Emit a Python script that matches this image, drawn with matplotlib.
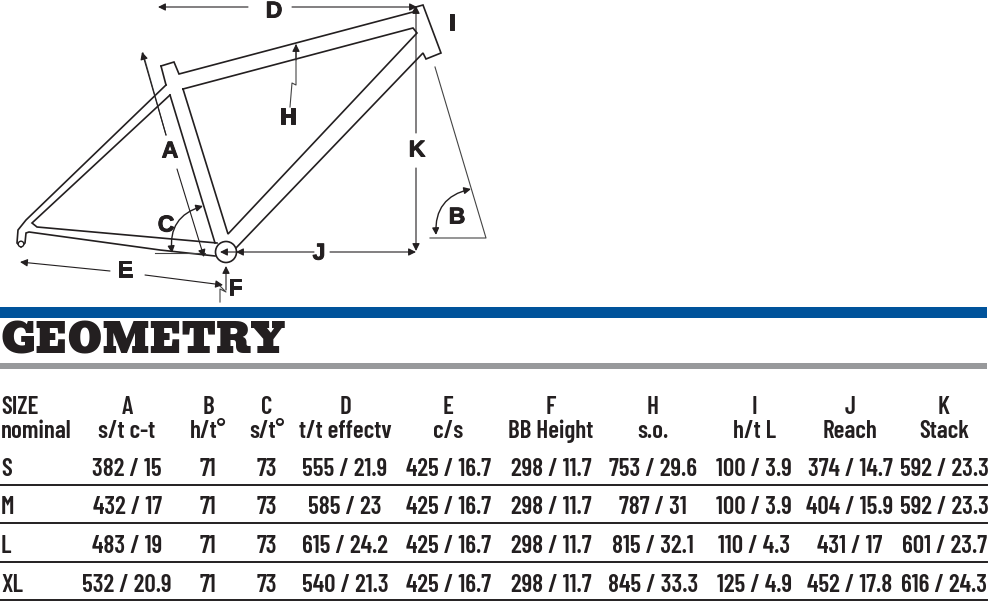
import matplotlib
matplotlib.use("Agg")
import matplotlib.pyplot as plt
from matplotlib.patches import Rectangle, Circle
from matplotlib import patheffects as pe
import logging
logging.getLogger("matplotlib.font_manager").setLevel(logging.ERROR)

sizes = ["S", "M", "L", "XL"]
col_letters = ["A", "B", "C", "D", "E", "F", "H", "I", "J", "K"]
col_names = ["s/t c-t", "h/t°", "s/t°", "t/t effectv", "c/s", "BB Height", "s.o.", "h/t L", "Reach", "Stack"]
col_A = ["382 / 15", "432 / 17", "483 / 19", "532 / 20.9"]
col_B = ["71", "71", "71", "71"]
col_C = ["73", "73", "73", "73"]
col_D = ["555 / 21.9", "585 / 23", "615 / 24.2", "540 / 21.3"]
col_E = ["425 / 16.7", "425 / 16.7", "425 / 16.7", "425 / 16.7"]
col_F = ["298 / 11.7", "298 / 11.7", "298 / 11.7", "298 / 11.7"]
col_H = ["753 / 29.6", "787 / 31", "815 / 32.1", "845 / 33.3"]
col_I = ["100 / 3.9", "100 / 3.9", "110 / 4.3", "125 / 4.9"]
col_J = ["374 / 14.7", "404 / 15.9", "431 / 17", "452 / 17.8"]
col_K = ["592 / 23.3", "592 / 23.3", "601 / 23.7", "616 / 24.3"]
columns = [col_A, col_B, col_C, col_D, col_E, col_F, col_H, col_I, col_J, col_K]

col_x = [127, 208, 267, 345, 448, 551, 653, 754, 850, 944]
row_base = [476, 514, 553, 592]
rule_y = [485, 523, 562, 600]

frame_paths = [
    [(161, 66), (174, 62), (179, 74), (413, 12), (416, 7), (423, 5), (441, 53), (426, 59), (423, 53), (235, 249)],
    [(183, 89), (413, 28), (417, 33), (228, 234), (183, 89)],
    [(170, 95), (215, 243)],
    [(166, 85), (161, 66)],
    [(166, 85), (26, 220), (18, 230), (17, 243), (21, 247), (25, 243), (26, 233), (29, 232), (160, 250), (215, 256)],
    [(170, 95), (32, 223), (37, 227), (217, 243)],
]
thin_paths = [
    [(166, 135), (143, 53)],
    [(155, 253), (205, 253)],
    [(290, 107), (292, 83), (296, 85), (296, 45)],
    [(435, 67), (486, 238), (430, 238)],
    [(217, 283), (226, 292), (220, 289), (220, 302)],
]
arrows = [
    [(248, 7), (158, 7)],
    [(292, 7), (417, 7)],
    [(166, 135), (142, 52)],
    [(296, 60), (296, 44)],
    [(416, 133), (416, 6)],
    [(416, 168), (416, 251)],
    [(314, 252), (236, 252)],
    [(330, 252), (416, 252)],
    [(110, 271), (20, 262)],
    [(145, 275), (223, 285)],
    [(226, 290), (226, 266)],
    [(177, 169), (204, 257)],
]
curve_arrows = [
    [(172, 253), (203, 206), -0.42],
    [(436, 235), (471, 189), -0.42],
]
diagram_labels = [("A", 170, 151), ("B", 457, 217), ("C", 166, 225), ("D", 274, 11), ("E", 125, 270),
                  ("F", 235, 288), ("H", 288, 117), ("I", 452, 23), ("J", 319, 253), ("K", 417, 150)]

DIN = ["Barlow Condensed", "Liberation Sans"]
HEAVY = ["Liberation Sans", "DejaVu Sans"]
SLAB = ["Bevan", "Alfa Slab One", "DejaVu Serif"]
fig = plt.figure(figsize=(9.88, 6.02), dpi=100)
ax = fig.add_axes([0, 0, 1, 1])
ax.set_xlim(0, 988)
ax.set_ylim(602, 0)
ax.axis("off")
INK = "#231f20"

for p in frame_paths:
    ax.plot(*zip(*p), color=INK, lw=1.2, solid_joinstyle="miter")
for p in thin_paths:
    ax.plot(*zip(*p), color="#444444", lw=0.8)
for a, b in arrows:
    ax.annotate("", xy=b, xytext=a, arrowprops=dict(arrowstyle="-|>", color=INK, lw=0.8, shrinkA=0, shrinkB=0, mutation_scale=11))
for a, b, rad in curve_arrows:
    ax.annotate("", xy=b, xytext=a, arrowprops=dict(arrowstyle="<|-|>", color=INK, lw=1, shrinkA=0, shrinkB=0, mutation_scale=10,
                                                   connectionstyle=f"arc3,rad={rad}"))
ax.add_patch(Circle((226, 252), 10.5, fc="white", ec=INK, lw=1.2, zorder=3))
ax.add_patch(Circle((21, 244), 2.8, fc="white", ec=INK, lw=1, zorder=3))
ax.annotate("", xy=(220, 252), xytext=(236, 252), zorder=4,
            arrowprops=dict(arrowstyle="-|>", color=INK, lw=0.8, shrinkA=0, shrinkB=0, mutation_scale=11))
for s, x, y in diagram_labels:
    ax.text(x, y, s, ha="center", va="center", fontsize=16.5, fontweight="bold", family=HEAVY, color=INK, zorder=5,
            path_effects=[pe.withStroke(linewidth=0.7, foreground=INK)])

ax.add_patch(Rectangle((0, 307), 987, 11, fc="#00539b", ec="none"))
ax.add_patch(Rectangle((0, 363), 987, 6, fc="#98999b", ec="none"))
ax.text(1, 353, "GEOMETRY", ha="left", va="baseline", fontsize=29.5, family=SLAB, color=INK)

fs = 18
w = 600
ax.text(1, 414, "SIZE", ha="left", va="baseline", fontsize=fs, family=DIN, fontweight=w, color=INK)
ax.text(1, 438, "nominal", ha="left", va="baseline", fontsize=fs, family=DIN, fontweight=w, color=INK)
for x, letter, name, vals in zip(col_x, col_letters, col_names, columns):
    ax.text(x, 414, letter, ha="center", va="baseline", fontsize=fs, family=DIN, fontweight=w, color=INK)
    ax.text(x, 438, name, ha="center", va="baseline", fontsize=fs, family=DIN, fontweight=w, color=INK)
    for y, v in zip(row_base, vals):
        ax.text(x, y, v, ha="center", va="baseline", fontsize=fs, family=DIN, fontweight=w, color=INK)
for y, s in zip(row_base, sizes):
    ax.text(1, y, s, ha="left", va="baseline", fontsize=fs, family=DIN, fontweight=w, color=INK)
for y in rule_y:
    ax.plot([0, 987], [y, y], color=INK, lw=1.4)

fig.savefig("out.png", dpi=100)
